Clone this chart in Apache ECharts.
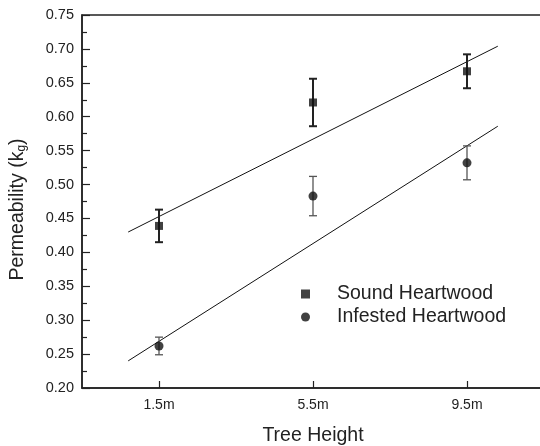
<!DOCTYPE html>
<html>
<head>
<meta charset="utf-8">
<script src="https://cdn.jsdelivr.net/npm/echarts@6/dist/echarts.min.js"></script>
<style>
  html, body { margin: 0; padding: 0; background: #fff; }
  #chart { width: 540px; height: 446px; }
</style>
</head>
<body>
<div id="chart"></div>
<script>
// tree heights (x positions) and their tick labels
const heights = [1.5, 5.5, 9.5];
const heightLabels = ['1.5m', '5.5m', '9.5m'];

// mean permeability and half error bar
const soundMean = [0.439, 0.621, 0.667];
const soundErr = [0.024, 0.035, 0.025];
const infestedMean = [0.262, 0.483, 0.532];
const infestedErr = [0.013, 0.029, 0.025];

// fitted lines at their two ends
const fitX = [0.7, 10.3];
const soundFit = [0.430, 0.704];
const infestedFit = [0.240, 0.586];

const font = 'Liberation Sans, Arial, sans-serif';

function pairs(xs, ys) {
  return xs.map((x, i) => [x, ys[i]]);
}
function errData(xs, mean, err) {
  return xs.map((x, i) => [x, mean[i] - err[i], mean[i] + err[i]]);
}

// error bar with caps
function errorBar(color, width) {
  return function (params, api) {
    const x = api.value(0);
    const lo = api.coord([x, api.value(1)]);
    const hi = api.coord([x, api.value(2)]);
    const w = 4;
    const style = { stroke: color, lineWidth: width };
    return {
      type: 'group',
      children: [
        { type: 'line', shape: { x1: lo[0], y1: lo[1], x2: hi[0], y2: hi[1] }, style: style },
        { type: 'line', shape: { x1: hi[0] - w, y1: hi[1], x2: hi[0] + w, y2: hi[1] }, style: style },
        { type: 'line', shape: { x1: lo[0] - w, y1: lo[1], x2: lo[0] + w, y2: lo[1] }, style: style }
      ]
    };
  };
}

const chart = echarts.init(document.getElementById('chart'));

chart.setOption({
  animation: false,
  textStyle: { fontFamily: font },
  grid: {
    left: 82, top: 15, width: 462, bottom: 58,
    outerBoundsMode: 'none',
    show: true, borderColor: '#222', borderWidth: 1.5
  },
  legend: {
    orient: 'vertical',
    left: 296,
    top: 279,
    itemWidth: 9,
    itemHeight: 9,
    itemGap: 3,
    selectedMode: false,
    data: [
      { name: 'Sound Heartwood', icon: 'rect' },
      { name: 'Infested Heartwood', icon: 'circle' }
    ],
    textStyle: { fontSize: 19.5, color: '#222', padding: [0, 0, 0, 22] }
  },
  xAxis: {
    type: 'value',
    min: -0.5,
    max: 11.5,
    name: 'Tree Height',
    nameLocation: 'middle',
    nameGap: 38,
    nameTextStyle: { fontSize: 19.5, color: '#222' },
    axisLine: { onZero: false, lineStyle: { color: '#222', width: 1.5 } },
    axisTick: { inside: true, length: 7, customValues: heights, lineStyle: { color: '#222', width: 1.2 } },
    axisLabel: {
      customValues: heights,
      fontSize: 14, color: '#222', margin: 10,
      formatter: v => heightLabels[heights.indexOf(v)]
    },
    splitLine: { show: false }
  },
  yAxis: {
    type: 'value',
    min: 0.2,
    max: 0.75,
    interval: 0.05,
    name: 'Permeability (k{sub|g})',
    nameLocation: 'middle',
    nameGap: 54,
    nameTextStyle: {
      fontSize: 19.5, color: '#222',
      padding: [0, 0, 0, -16],
      rich: { sub: { fontSize: 12, color: '#222', verticalAlign: 'bottom', padding: [8, 0, 0, 0] } }
    },
    axisLine: { show: true, onZero: false, lineStyle: { color: '#222', width: 1.5 } },
    axisTick: { inside: true, length: 8, lineStyle: { color: '#222', width: 1.2 } },
    minorTick: { show: true, splitNumber: 2, length: 5, lineStyle: { color: '#222', width: 1.2 } },
    axisLabel: { fontSize: 14.5, color: '#222', margin: 8, formatter: v => v.toFixed(2) },
    splitLine: { show: false }
  },
  series: [
    {
      name: 'sound fit', type: 'line', data: pairs(fitX, soundFit),
      symbol: 'none', lineStyle: { color: '#111', width: 1 }, z: 1
    },
    {
      name: 'infested fit', type: 'line', data: pairs(fitX, infestedFit),
      symbol: 'none', lineStyle: { color: '#111', width: 1 }, z: 1
    },
    {
      name: 'sound err', type: 'custom', data: errData(heights, soundMean, soundErr),
      renderItem: errorBar('#222', 2), z: 2
    },
    {
      name: 'infested err', type: 'custom', data: errData(heights, infestedMean, infestedErr),
      renderItem: errorBar('#555', 1.3), z: 2
    },
    {
      name: 'Sound Heartwood', type: 'scatter', data: pairs(heights, soundMean),
      symbol: 'rect', symbolSize: 8, itemStyle: { color: '#111' }, z: 3
    },
    {
      name: 'Infested Heartwood', type: 'scatter', data: pairs(heights, infestedMean),
      symbol: 'circle', symbolSize: 9, itemStyle: { color: '#111' }, z: 3
    }
  ]
});
</script>
</body>
</html>
